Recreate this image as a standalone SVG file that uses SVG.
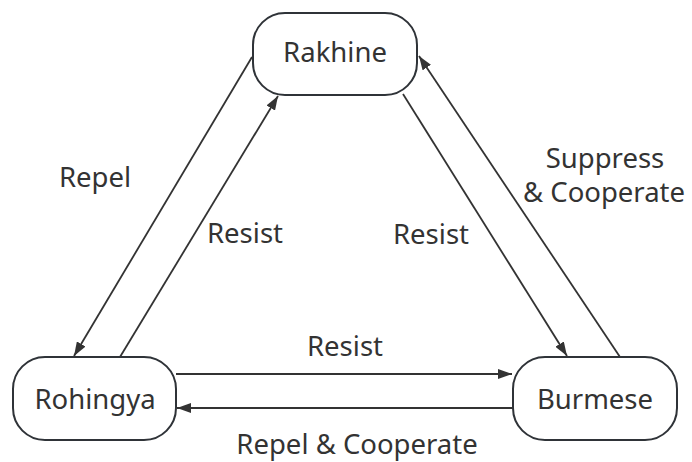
<svg xmlns="http://www.w3.org/2000/svg" width="692" height="462" viewBox="0 0 692 462">
<style>
.node rect{fill:#fff;stroke:#2f3338;stroke-width:2}
text{font-family:"Noto Sans","Open Sans",sans-serif;font-size:27.5px;fill:#333;text-anchor:middle}
.edge{stroke:#333;stroke-width:1.8;fill:none;marker-end:url(#arr)}
</style>
<defs>
<marker id="arr" viewBox="0 0 14 10" refX="14" refY="5" markerWidth="14" markerHeight="10" markerUnits="userSpaceOnUse" orient="auto">
<path d="M0,0 L14,5 L0,10 z" fill="#333"/>
</marker>
</defs>
<rect width="692" height="462" fill="#fff"/>
<g id="connectors">
<line class="edge" x1="252" y1="57" x2="74" y2="356"/>
<line class="edge" x1="120" y1="357" x2="278" y2="96"/>
<line class="edge" x1="403" y1="94" x2="567" y2="356"/>
<line class="edge" x1="620" y1="357" x2="419" y2="56"/>
<line class="edge" x1="176" y1="374" x2="512" y2="374"/>
<line class="edge" x1="513" y1="408" x2="177" y2="408"/>
</g>
<g id="labels">
<text x="95" y="187">Repel</text>
<text x="245" y="243">Resist</text>
<text x="431" y="244">Resist</text>
<text x="605" y="168">Suppress</text>
<text x="604" y="202">&amp; Cooperate</text>
<text x="345" y="356">Resist</text>
<text x="357" y="454">Repel &amp; Cooperate</text>
</g>
<g id="rakhine" class="node">
<rect x="253" y="13" width="164" height="82" rx="32"/>
<text x="335" y="62">Rakhine</text>
</g>
<g id="rohingya" class="node">
<rect x="13" y="357" width="163" height="83" rx="32"/>
<text x="95" y="409">Rohingya</text>
</g>
<g id="burmese" class="node">
<rect x="513" y="357" width="164" height="83" rx="32"/>
<text x="595" y="409">Burmese</text>
</g>
</svg>
